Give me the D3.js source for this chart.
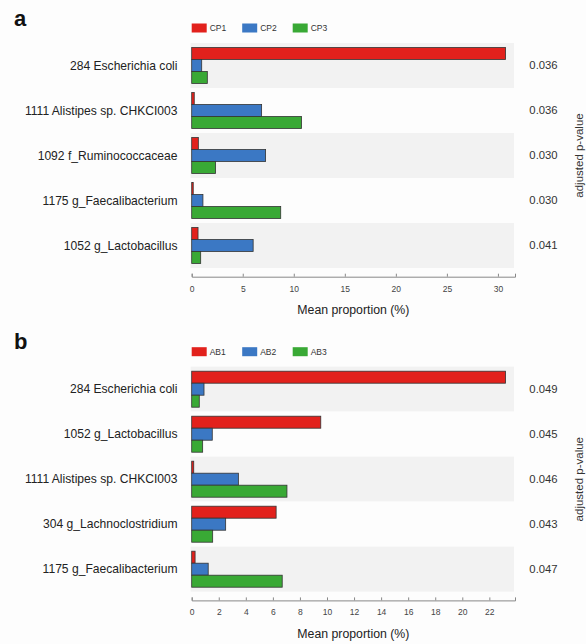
<!DOCTYPE html>
<html>
<head>
<meta charset="utf-8">
<script src="https://cdn.jsdelivr.net/npm/d3@7"></script>
<style>
  body { margin: 0; background: #fdfdfd; font-family: "Liberation Sans", Arial, sans-serif; }
  .row-label { font-size: 12.1px; fill: #222; }
  .pval { font-size: 11.3px; fill: #333; }
  .side-title { font-size: 11.5px; fill: #333; }
  .legend-text { font-size: 8.5px; fill: #333; }
  .axis-title { font-size: 12.3px; fill: #222; }
  .panel-tag { font-size: 22px; font-weight: bold; fill: #111; }
  .axis text { font-size: 8.5px; fill: #444; font-family: "Liberation Sans", Arial, sans-serif; }
  .axis path, .axis line { stroke: #888; }
</style>
</head>
<body>
<div id="chart"></div>
<script>
// panel a
const taxaA = ['284 Escherichia coli', '1111 Alistipes sp. CHKCI003', '1092 f_Ruminococcaceae',
               '1175 g_Faecalibacterium', '1052 g_Lactobacillus'];
const groupsA = ['CP1', 'CP2', 'CP3'];
const cp1 = [30.75, 0.25, 0.65, 0.15, 0.62];
const cp2 = [0.98, 6.85, 7.24, 1.10, 6.02];
const cp3 = [1.53, 10.76, 2.34, 8.72, 0.88];
const pvalA = ['0.036', '0.036', '0.030', '0.030', '0.041'];
const ticksA = [0, 5, 10, 15, 20, 25, 30];

// panel b
const taxaB = ['284 Escherichia coli', '1052 g_Lactobacillus', '1111 Alistipes sp. CHKCI003',
               '304 g_Lachnoclostridium', '1175 g_Faecalibacterium'];
const groupsB = ['AB1', 'AB2', 'AB3'];
const ab1 = [23.2, 9.54, 0.15, 6.24, 0.25];
const ab2 = [0.91, 1.52, 3.45, 2.51, 1.22];
const ab3 = [0.56, 0.81, 7.04, 1.55, 6.69];
const pvalB = ['0.049', '0.045', '0.046', '0.043', '0.047'];
const ticksB = [0, 2, 4, 6, 8, 10, 12, 14, 16, 18, 20, 22];

const colors = ['#e2211c', '#3b78c4', '#39a935'];

class GroupedBarPanel {

  constructor(_config) {
    this.config = {
      svg: _config.svg,
      top: _config.top,
      tag: _config.tag,
      taxa: _config.taxa,
      groups: _config.groups,
      series: _config.series,
      pvals: _config.pvals,
      ticks: _config.ticks,
      xLeft: 191.7,
      xRight: 515,
      rowTop: 43,
      rowH: 45
    };
    this.initVis();
  }

  initVis() {
    let vis = this;
    let c = vis.config;

    vis.g = c.svg.append('g')
        .attr('transform', `translate(0,${c.top})`);

    vis.xScale = d3.scaleLinear()
        .domain([0, d3.max(c.series.flat()) * 1.03])
        .range([c.xLeft, c.xRight]);

    vis.yScale = d3.scaleBand()
        .domain(c.taxa)
        .range([c.rowTop, c.rowTop + c.rowH * c.taxa.length]);

    vis.inner = d3.scaleBand()
        .domain(c.groups)
        .range([4.5, c.rowH - 4.5]);

    vis.renderVis();
  }

  renderVis() {
    let vis = this;
    let c = vis.config;

    // panel letter
    vis.g.append('text')
        .attr('class', 'panel-tag')
        .attr('x', 14)
        .attr('y', 25.5)
        .text(c.tag);

    // legend
    const legend = vis.g.selectAll('.legend-item')
      .data(c.groups)
      .join('g')
        .attr('class', 'legend-item')
        .attr('transform', (d, i) => `translate(${c.xLeft + i * 50.5}, 23.5)`);
    legend.append('rect')
        .attr('width', 15)
        .attr('height', 9)
        .attr('fill', (d, i) => colors[i]);
    legend.append('text')
        .attr('class', 'legend-text')
        .attr('x', 18)
        .attr('y', 4.5)
        .attr('dy', '0.35em')
        .text(d => d);

    // alternating row backgrounds
    vis.g.selectAll('.band')
      .data(c.taxa)
      .join('rect')
        .attr('class', 'band')
        .attr('x', c.xLeft - 1)
        .attr('y', d => vis.yScale(d))
        .attr('width', c.xRight - c.xLeft)
        .attr('height', vis.yScale.bandwidth())
        .attr('fill', (d, i) => i % 2 == 0 ? '#f2f2f2' : '#fdfdfd');

    // bars
    c.series.forEach((vals, si) => {
      vis.g.selectAll(`.bar-${si}`)
        .data(vals)
        .join('rect')
          .attr('class', `bar-${si}`)
          .attr('x', vis.xScale(0))
          .attr('y', (d, i) => vis.yScale(c.taxa[i]) + vis.inner(c.groups[si]))
          .attr('width', d => vis.xScale(d) - vis.xScale(0))
          .attr('height', vis.inner.bandwidth())
          .attr('fill', colors[si])
          .attr('stroke', '#333')
          .attr('stroke-width', 0.8);
    });

    // row labels
    vis.g.selectAll('.row-label')
      .data(c.taxa)
      .join('text')
        .attr('class', 'row-label')
        .attr('x', 177.5)
        .attr('y', d => vis.yScale(d) + vis.yScale.bandwidth() / 2)
        .attr('dy', '0.35em')
        .attr('text-anchor', 'end')
        .text(d => d);

    // p-values
    vis.g.selectAll('.pval')
      .data(c.pvals)
      .join('text')
        .attr('class', 'pval')
        .attr('x', 543.5)
        .attr('y', (d, i) => vis.yScale(c.taxa[i]) + vis.yScale.bandwidth() / 2)
        .attr('dy', '0.35em')
        .attr('text-anchor', 'middle')
        .text(d => d);

    // side title, kept just inside the right edge
    const yMid = c.rowTop + c.rowH * c.taxa.length / 2;
    vis.g.append('text')
        .attr('class', 'side-title')
        .attr('transform', `translate(582.5,${yMid}) rotate(-90)`)
        .attr('text-anchor', 'middle')
        .text('adjusted p-value');

    // x axis
    const axisY = c.rowTop + c.rowH * c.taxa.length + 8.7;
    const xAxis = d3.axisBottom(vis.xScale)
        .tickValues(c.ticks)
        .tickSizeInner(-3)
        .tickSizeOuter(-3)
        .tickPadding(9);
    vis.g.append('g')
        .attr('class', 'axis')
        .attr('transform', `translate(0,${axisY})`)
        .call(xAxis);

    vis.g.append('text')
        .attr('class', 'axis-title')
        .attr('x', (c.xLeft + c.xRight) / 2)
        .attr('y', axisY + 37.5)
        .attr('text-anchor', 'middle')
        .text('Mean proportion (%)');
  }
}

const svg = d3.select('#chart')
  .append('svg')
    .attr('width', 586)
    .attr('height', 644);

new GroupedBarPanel({
  svg: svg, top: 0, tag: 'a', taxa: taxaA, groups: groupsA,
  series: [cp1, cp2, cp3], pvals: pvalA, ticks: ticksA
});
new GroupedBarPanel({
  svg: svg, top: 323.7, tag: 'b', taxa: taxaB, groups: groupsB,
  series: [ab1, ab2, ab3], pvals: pvalB, ticks: ticksB
});
</script>
</body>
</html>
